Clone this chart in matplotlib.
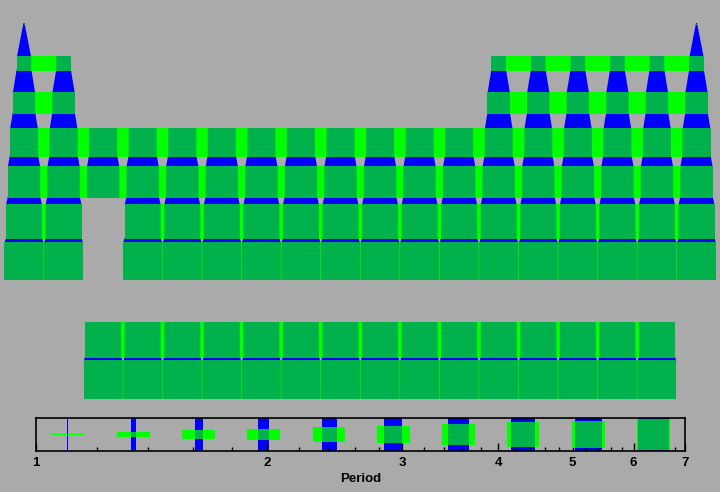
import numpy as np
import matplotlib
matplotlib.use('Agg')
import matplotlib.pyplot as plt
from matplotlib.patches import Polygon, Rectangle
from matplotlib.ticker import FixedLocator, NullFormatter

BG = '#AAAAAA'
BLUE = '#0000FF'
LIME = '#00FF00'
DARK = '#00B14C'

# ---- data: periodic-table layout (table row, period, block, groups present) ----
layout_rows = [1, 2, 3, 4, 5, 6, 7, 9, 10]
layout_period = [1, 2, 3, 4, 5, 6, 7, 6, 7]
layout_block = ['main', 'main', 'main', 'main', 'main', 'main', 'main', 'f', 'f']
layout_groups = [
    [1, 18],
    [1, 2, 13, 14, 15, 16, 17, 18],
    [1, 2, 13, 14, 15, 16, 17, 18],
    [1, 2, 3, 4, 5, 6, 7, 8, 9, 10, 11, 12, 13, 14, 15, 16, 17, 18],
    [1, 2, 3, 4, 5, 6, 7, 8, 9, 10, 11, 12, 13, 14, 15, 16, 17, 18],
    [1, 2, 4, 5, 6, 7, 8, 9, 10, 11, 12, 13, 14, 15, 16, 17, 18],
    [1, 2, 4, 5, 6, 7, 8, 9, 10, 11, 12, 13, 14, 15, 16, 17, 18],
    [3, 4, 5, 6, 7, 8, 9, 10, 11, 12, 13, 14, 15, 16, 17],
    [3, 4, 5, 6, 7, 8, 9, 10, 11, 12, 13, 14, 15, 16, 17],
]
legend_values = [1.10, 1.34, 1.63, 1.98, 2.41, 2.92, 3.55, 4.31, 5.24, 6.37]
legend_ticks = [1, 2, 3, 4, 5, 6, 7]
legend_minor = [1.2, 1.4, 1.6, 1.8, 2.2, 2.4, 2.6, 2.8, 3.2, 3.4, 3.6, 3.8,
                4.2, 4.4, 4.6, 4.8, 5.2, 5.4, 5.6, 5.8, 6.2, 6.4, 6.6, 6.8]

# ---- geometry (pixels) ----
W, H = 720, 492
X0, XP = 24.0, 39.56
Y0, YP = 24.0, 39.5


def size_main(p):
    return 1 + 38 * np.log(p) / np.log(7)


def size_leg(v):
    return max(1.3, 32.3 * np.log(v) / np.log(7))


def dx(px):
    return px / XP


def dy(px):
    return px / YP


def px_x(g):
    return X0 + XP * (g - 1)


def px_y(r):
    return Y0 + YP * (r - 1)


def col_of(px):
    return 1 + (px - X0) / XP


def row_of(py):
    return 1 + (py - Y0) / YP


fig = plt.figure(figsize=(W / 100, H / 100), dpi=100, facecolor=BG)
ax = fig.add_axes([0, 0, 1, 1])
ax.set_xlim(col_of(0), col_of(W))
ax.set_ylim(row_of(H), row_of(0))
ax.axis('off')

# vertical (group) trails: blue connectors between consecutive cells of a group
series = {}
for r, p, b, gs in zip(layout_rows, layout_period, layout_block, layout_groups):
    for g in gs:
        series.setdefault((b, g), []).append((r, p))

EXT = 1.5  # px the connector reaches under the cells
for (b, g), pts in series.items():
    pts.sort()
    for (r1, p1), (r2, p2) in zip(pts[:-1], pts[1:]):
        w1, w2 = size_main(p1), size_main(p2)
        y1 = r1 + dy(w1) / 2 - dy(EXT)
        y2 = r2 - dy(w2) / 2 + dy(EXT)
        quad = [(g - dx(w1) / 2, y1), (g + dx(w1) / 2, y1),
                (g + dx(w2) / 2, y2), (g - dx(w2) / 2, y2)]
        ax.add_patch(Polygon(quad, closed=True, facecolor=BLUE, edgecolor='none',
                             lw=0, zorder=1))

# horizontal (period) trails, split into contiguous runs, plus overlap squares
for r, p, gs in zip(layout_rows, layout_period, layout_groups):
    h = size_main(p)
    top = round(px_y(r) - h / 2)
    bot = max(round(px_y(r) + h / 2), top + 1)
    runs, cur = [], [gs[0]]
    for g in gs[1:]:
        if g == cur[-1] + 1:
            cur.append(g)
        else:
            runs.append(cur)
            cur = [g]
    runs.append(cur)
    for run in runs:
        a, bb = run[0], run[-1]
        lft = round(px_x(a) - h / 2)
        rgt = max(round(px_x(bb) + h / 2), lft + 1)
        ax.add_patch(Rectangle((col_of(lft), row_of(top)), col_of(rgt) - col_of(lft),
                               row_of(bot) - row_of(top), facecolor=LIME,
                               edgecolor='none', lw=0, zorder=2, snap=False))
        for g in run:
            sl = lft if g == a else px_x(g) - h / 2
            sr = rgt if g == bb else px_x(g) + h / 2
            ax.add_patch(Rectangle((col_of(sl), row_of(top)), col_of(sr) - col_of(sl),
                                   row_of(bot) - row_of(top), facecolor=DARK,
                                   edgecolor='none', lw=0, zorder=3, snap=False))

# ---- legend axes ----
LX0, LX1, LY0, LY1 = 35.7, 685.0, 418.0, 451.0
LW, LH = LX1 - LX0, LY1 - LY0
lax = fig.add_axes([LX0 / W, (H - LY1) / H, LW / W, LH / H])
lax.set_facecolor('none')
lax.set_xscale('log')
lax.set_xlim(1, 7)
lax.set_ylim(0, 1)
GW = 32.5
for v in legend_values:
    s = size_leg(v)
    f = 7 ** ((s / 2) / LW)
    lax.add_patch(Rectangle((v / f, 0), v * f - v / f, 1, facecolor=BLUE,
                            edgecolor='none', lw=0, zorder=1))
    gq = 7 ** ((GW / 2) / LW)
    lax.add_patch(Rectangle((v / gq, 0.5 - s / LH / 2), v * gq - v / gq, s / LH,
                            facecolor=LIME, edgecolor='none', lw=0, zorder=2))
    m = min(s, GW)
    fm = 7 ** ((m / 2) / LW)
    lax.add_patch(Rectangle((v / fm, 0.5 - s / LH / 2), v * fm - v / fm, s / LH,
                            facecolor=DARK, edgecolor='none', lw=0, zorder=3))

lax.set_xticks(legend_ticks)
lax.set_xticklabels([str(t) for t in legend_ticks])
lax.xaxis.set_minor_locator(FixedLocator(legend_minor))
lax.xaxis.set_minor_formatter(NullFormatter())
lax.tick_params(axis='x', which='major', direction='in', length=6, width=1,
                pad=4, labelsize=9.5, color='black')
lax.tick_params(axis='x', which='minor', direction='in', length=3, width=1, color='black')
lax.tick_params(axis='y', left=False, labelleft=False)
for lab in lax.get_xticklabels():
    lab.set_fontfamily('Liberation Sans')
    lab.set_fontweight('bold')
for sp in lax.spines.values():
    sp.set_linewidth(1.2)
    sp.set_zorder(5)
lax.set_xlabel('Period', fontfamily='Liberation Sans', fontweight='bold',
               fontsize=9.5, labelpad=3)

fig.savefig('out.png', dpi=100, facecolor=BG)
